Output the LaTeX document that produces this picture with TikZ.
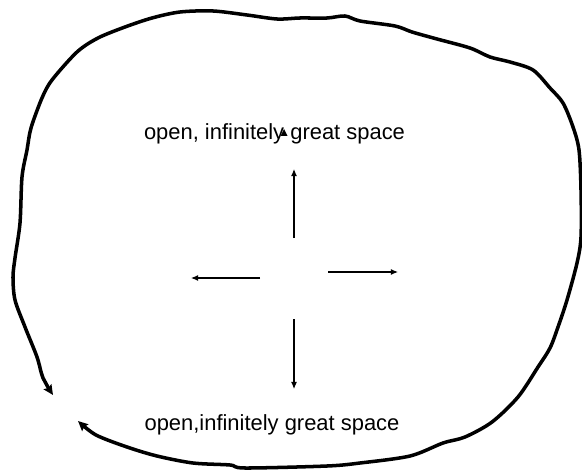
\documentclass[tikz,border=0pt]{standalone}
\usepackage{fontspec}
\setmainfont{Liberation Sans}
\usetikzlibrary{arrows.meta}

\begin{document}
\begin{tikzpicture}[x=0.025cm,y=-0.025cm,
    rand/.style={line width=2.5pt, line join=round, line cap=round,
      {Stealth[length=7pt,width=6.5pt,inset=1pt]}-{Stealth[length=7pt,width=6.5pt,inset=1pt]}},
    pfeil/.style={line width=0.8pt, -{Latex[length=5pt,width=4.3pt]}},
    raum/.style={font=\fontsize{15.6}{18}\selectfont, inner sep=0pt, anchor=base}]
                \useasboundingbox (0,0) rectangle (582,471);
                % the hand drawn border
                \draw[rand] plot[smooth, tension=0.5] coordinates {
                  (53,395) (43,378) (37,357) (25,327) (15,300) (13,277) (15,258)
                  (20,223) (22,177) (27,150) (31,128) (42,98) (52,80) (77,52)
                  (98,38) (125,27) (152,18) (180,12) (213,11) (247,15) (277,19)
                  (300,18) (327,18) (345,16) (360,21) (395,26) (412,32) (437,39)
                  (470,48) (490,57) (510,62) (533,70) (550,88) (563,103) (573,127)
                  (579,150) (581,190) (581,237) (577,263) (567,300) (558,327)
                  (550,348) (538,367) (518,397) (492,422) (465,437) (443,443)
                  (410,456) (360,463) (327,466) (245,468) (230,465) (193,463)
                  (157,456) (127,447) (96,435) (78,421)};
                \node[raum] (oben) at (274.5,140) {open, infinitely great space};
                \node[raum] (unten) at (272,430) {open,infinitely great space};
                \fill (280.5,136) -- (284,129) -- (287.5,136) -- cycle;
                % four arrows
                \coordinate (obenA) at (294,238);
                \coordinate (obenB) at (294,169);
                \coordinate (untenA) at (294,319);
                \coordinate (untenB) at (294,389);
                \coordinate (linksA) at (260,278);
                \coordinate (linksB) at (191,278);
                \coordinate (rechtsA) at (328,272);
                \coordinate (rechtsB) at (398,272);
                \draw[pfeil] (obenA) -- (obenB);
                \draw[pfeil] (untenA) -- (untenB);
                \draw[pfeil] (linksA) -- (linksB);
                \draw[pfeil] (rechtsA) -- (rechtsB);
            \end{tikzpicture}
\end{document}
